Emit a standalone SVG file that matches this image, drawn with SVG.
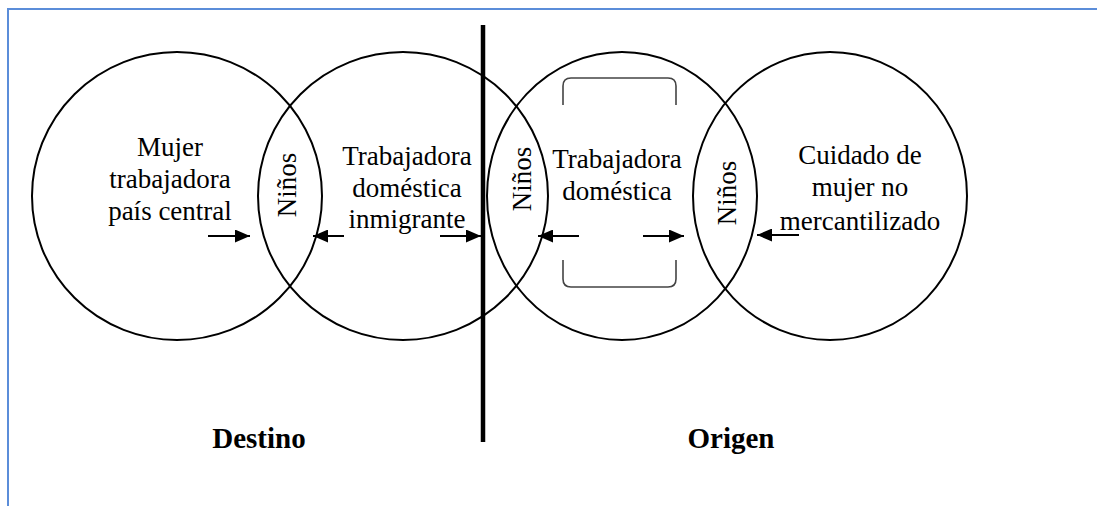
<svg xmlns="http://www.w3.org/2000/svg" width="1097" height="506" viewBox="0 0 1097 506">
<defs>
<marker id="ah" markerUnits="userSpaceOnUse" markerWidth="15" markerHeight="13" refX="15" refY="6.5" orient="auto">
<path d="M0,0 L15,6.5 L0,13 z" fill="#000"/>
</marker>
<style>
.c{fill:none;stroke:#000;stroke-width:2}
.t{font-family:"Liberation Serif","Times New Roman",serif;font-size:27px;fill:#000;text-anchor:middle}
.b{font-family:"Liberation Serif","Times New Roman",serif;font-size:29px;font-weight:bold;fill:#000;text-anchor:middle}
.a{stroke:#000;stroke-width:2;fill:none;marker-end:url(#ah)}
.br{fill:none;stroke:#444;stroke-width:1.6}
</style>
</defs>
<rect width="1097" height="506" fill="#fff"/>
<path d="M8,506 L8,9 L1097,9" fill="none" stroke="#5b8dd9" stroke-width="2"/>

<g id="circle-mujer-trabajadora">
<ellipse class="c" cx="177" cy="196" rx="145" ry="144"/>
<text class="t" x="170" y="156">Mujer</text>
<text class="t" x="170" y="188">trabajadora</text>
<text class="t" x="170" y="220">país central</text>
</g>
<g id="circle-trabajadora-inmigrante">
<ellipse class="c" cx="403" cy="196" rx="145" ry="144"/>
<text class="t" x="407" y="165">Trabajadora</text>
<text class="t" x="407" y="197">doméstica</text>
<text class="t" x="407" y="228">inmigrante</text>
</g>
<g id="circle-trabajadora-domestica">
<ellipse class="c" cx="622" cy="196" rx="135" ry="144"/>
<text class="t" x="617" y="168">Trabajadora</text>
<text class="t" x="617" y="200">doméstica</text>
<path class="br" d="M563,105 L563,86 Q563,78 571,78 L668,78 Q676,78 676,86 L676,105"/>
<path class="br" d="M563,260 L563,279 Q563,287 571,287 L668,287 Q676,287 676,279 L676,260"/>
</g>
<g id="circle-cuidado">
<ellipse class="c" cx="830" cy="196" rx="137" ry="144"/>
<text class="t" x="860" y="164">Cuidado de</text>
<text class="t" x="860" y="196">mujer no</text>
<text class="t" x="860" y="230">mercantilizado</text>
</g>
<g id="ninos-1"><text class="t" transform="translate(296,185) rotate(-90)">Niños</text></g>
<g id="ninos-2"><text class="t" transform="translate(531,179) rotate(-90)">Niños</text></g>
<g id="ninos-3"><text class="t" transform="translate(736,193) rotate(-90)">Niños</text></g>

<g id="divider"><line x1="483" y1="25" x2="483" y2="442" stroke="#000" stroke-width="4.5"/></g>
<g id="label-destino"><text class="b" x="259" y="448">Destino</text></g>
<g id="label-origen"><text class="b" x="731" y="448">Origen</text></g>

<g id="connectors">
<line class="a" x1="208" y1="236" x2="250" y2="236"/>
<line class="a" x1="344" y1="236" x2="313" y2="236"/>
<line class="a" x1="440" y1="236" x2="481" y2="236"/>
<line class="a" x1="579" y1="236" x2="538" y2="236"/>
<line class="a" x1="643" y1="236" x2="684" y2="236"/>
<line class="a" x1="799" y1="235" x2="757" y2="235"/>
</g>
</svg>
